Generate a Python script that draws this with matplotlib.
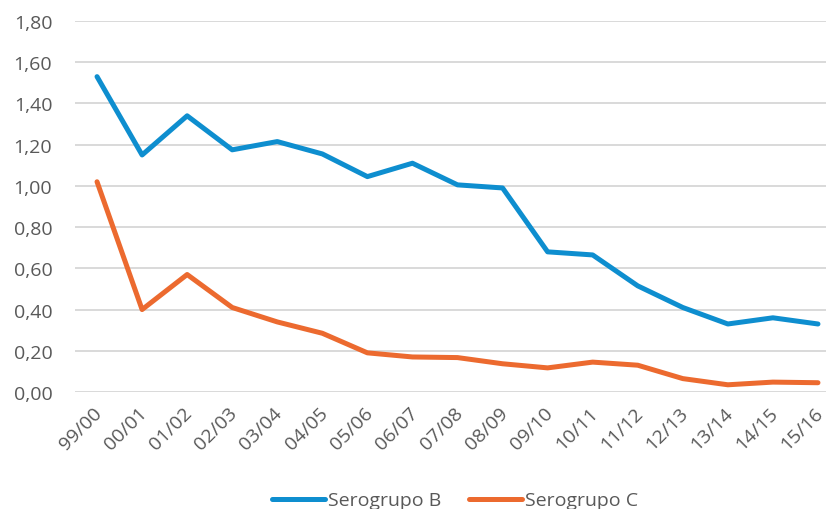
import matplotlib
matplotlib.use("Agg")
import matplotlib.pyplot as plt
import matplotlib.transforms as mtransforms

seasons = ["99/00", "00/01", "01/02", "02/03", "03/04", "04/05", "05/06", "06/07",
           "07/08", "08/09", "09/10", "10/11", "11/12", "12/13", "13/14", "14/15", "15/16"]
serogrupo_b = [1.53, 1.15, 1.34, 1.175, 1.215, 1.155, 1.045, 1.11, 1.005, 0.99,
               0.68, 0.665, 0.515, 0.41, 0.33, 0.36, 0.33]
serogrupo_c = [1.02, 0.40, 0.57, 0.41, 0.34, 0.285, 0.19, 0.17, 0.167, 0.137,
               0.117, 0.145, 0.13, 0.065, 0.035, 0.048, 0.045]
yticks = [0.0, 0.2, 0.4, 0.6, 0.8, 1.0, 1.2, 1.4, 1.6, 1.8]

plt.rcParams['font.family'] = ['Open Sans', 'DejaVu Sans']
grey = '#595959'

fig = plt.figure(figsize=(8.26, 5.10), dpi=100)
ax = fig.add_axes([74.5 / 826, 1 - 393 / 510, 766 / 826, 371 / 510])

x = range(len(seasons))
ax.plot(x, serogrupo_b, color='#0E8ECF', lw=3.6, label='Serogrupo B', solid_capstyle='round')
ax.plot(x, serogrupo_c, color='#EC6A2F', lw=3.6, label='Serogrupo C', solid_capstyle='round')

ax.set_xlim(-0.5, len(seasons) - 0.5)
ax.set_ylim(0, 1.8)
ax.set_yticks(yticks)
ax.set_yticklabels(['{:.2f}'.format(v).replace('.', ',') for v in yticks], fontsize=14, color=grey)
ax.set_xticks(list(x))
ax.set_xticklabels(seasons, rotation=45, ha='right', rotation_mode='anchor', fontsize=14, color=grey)
ax.tick_params(axis='y', length=0, pad=16)
ax.tick_params(axis='x', length=0, pad=8)
ax.grid(axis='y', color='#D9D9D9', lw=1.4)
ax.set_axisbelow(True)
for s in ax.spines.values():
    s.set_visible(False)

# shift the slanted labels a bit left so the last one stays inside
shift = mtransforms.ScaledTranslation(-4 / 100, 0, fig.dpi_scale_trans)
for lab in ax.get_xticklabels():
    lab.set_transform(lab.get_transform() + shift)

fig.legend(loc='lower center', bbox_to_anchor=(455 / 826, -0.035), ncol=2, frameon=False,
           fontsize=14, labelcolor=grey, handlelength=2.7, columnspacing=1.45, handletextpad=0.15)

fig.savefig('out.png', dpi=100)
